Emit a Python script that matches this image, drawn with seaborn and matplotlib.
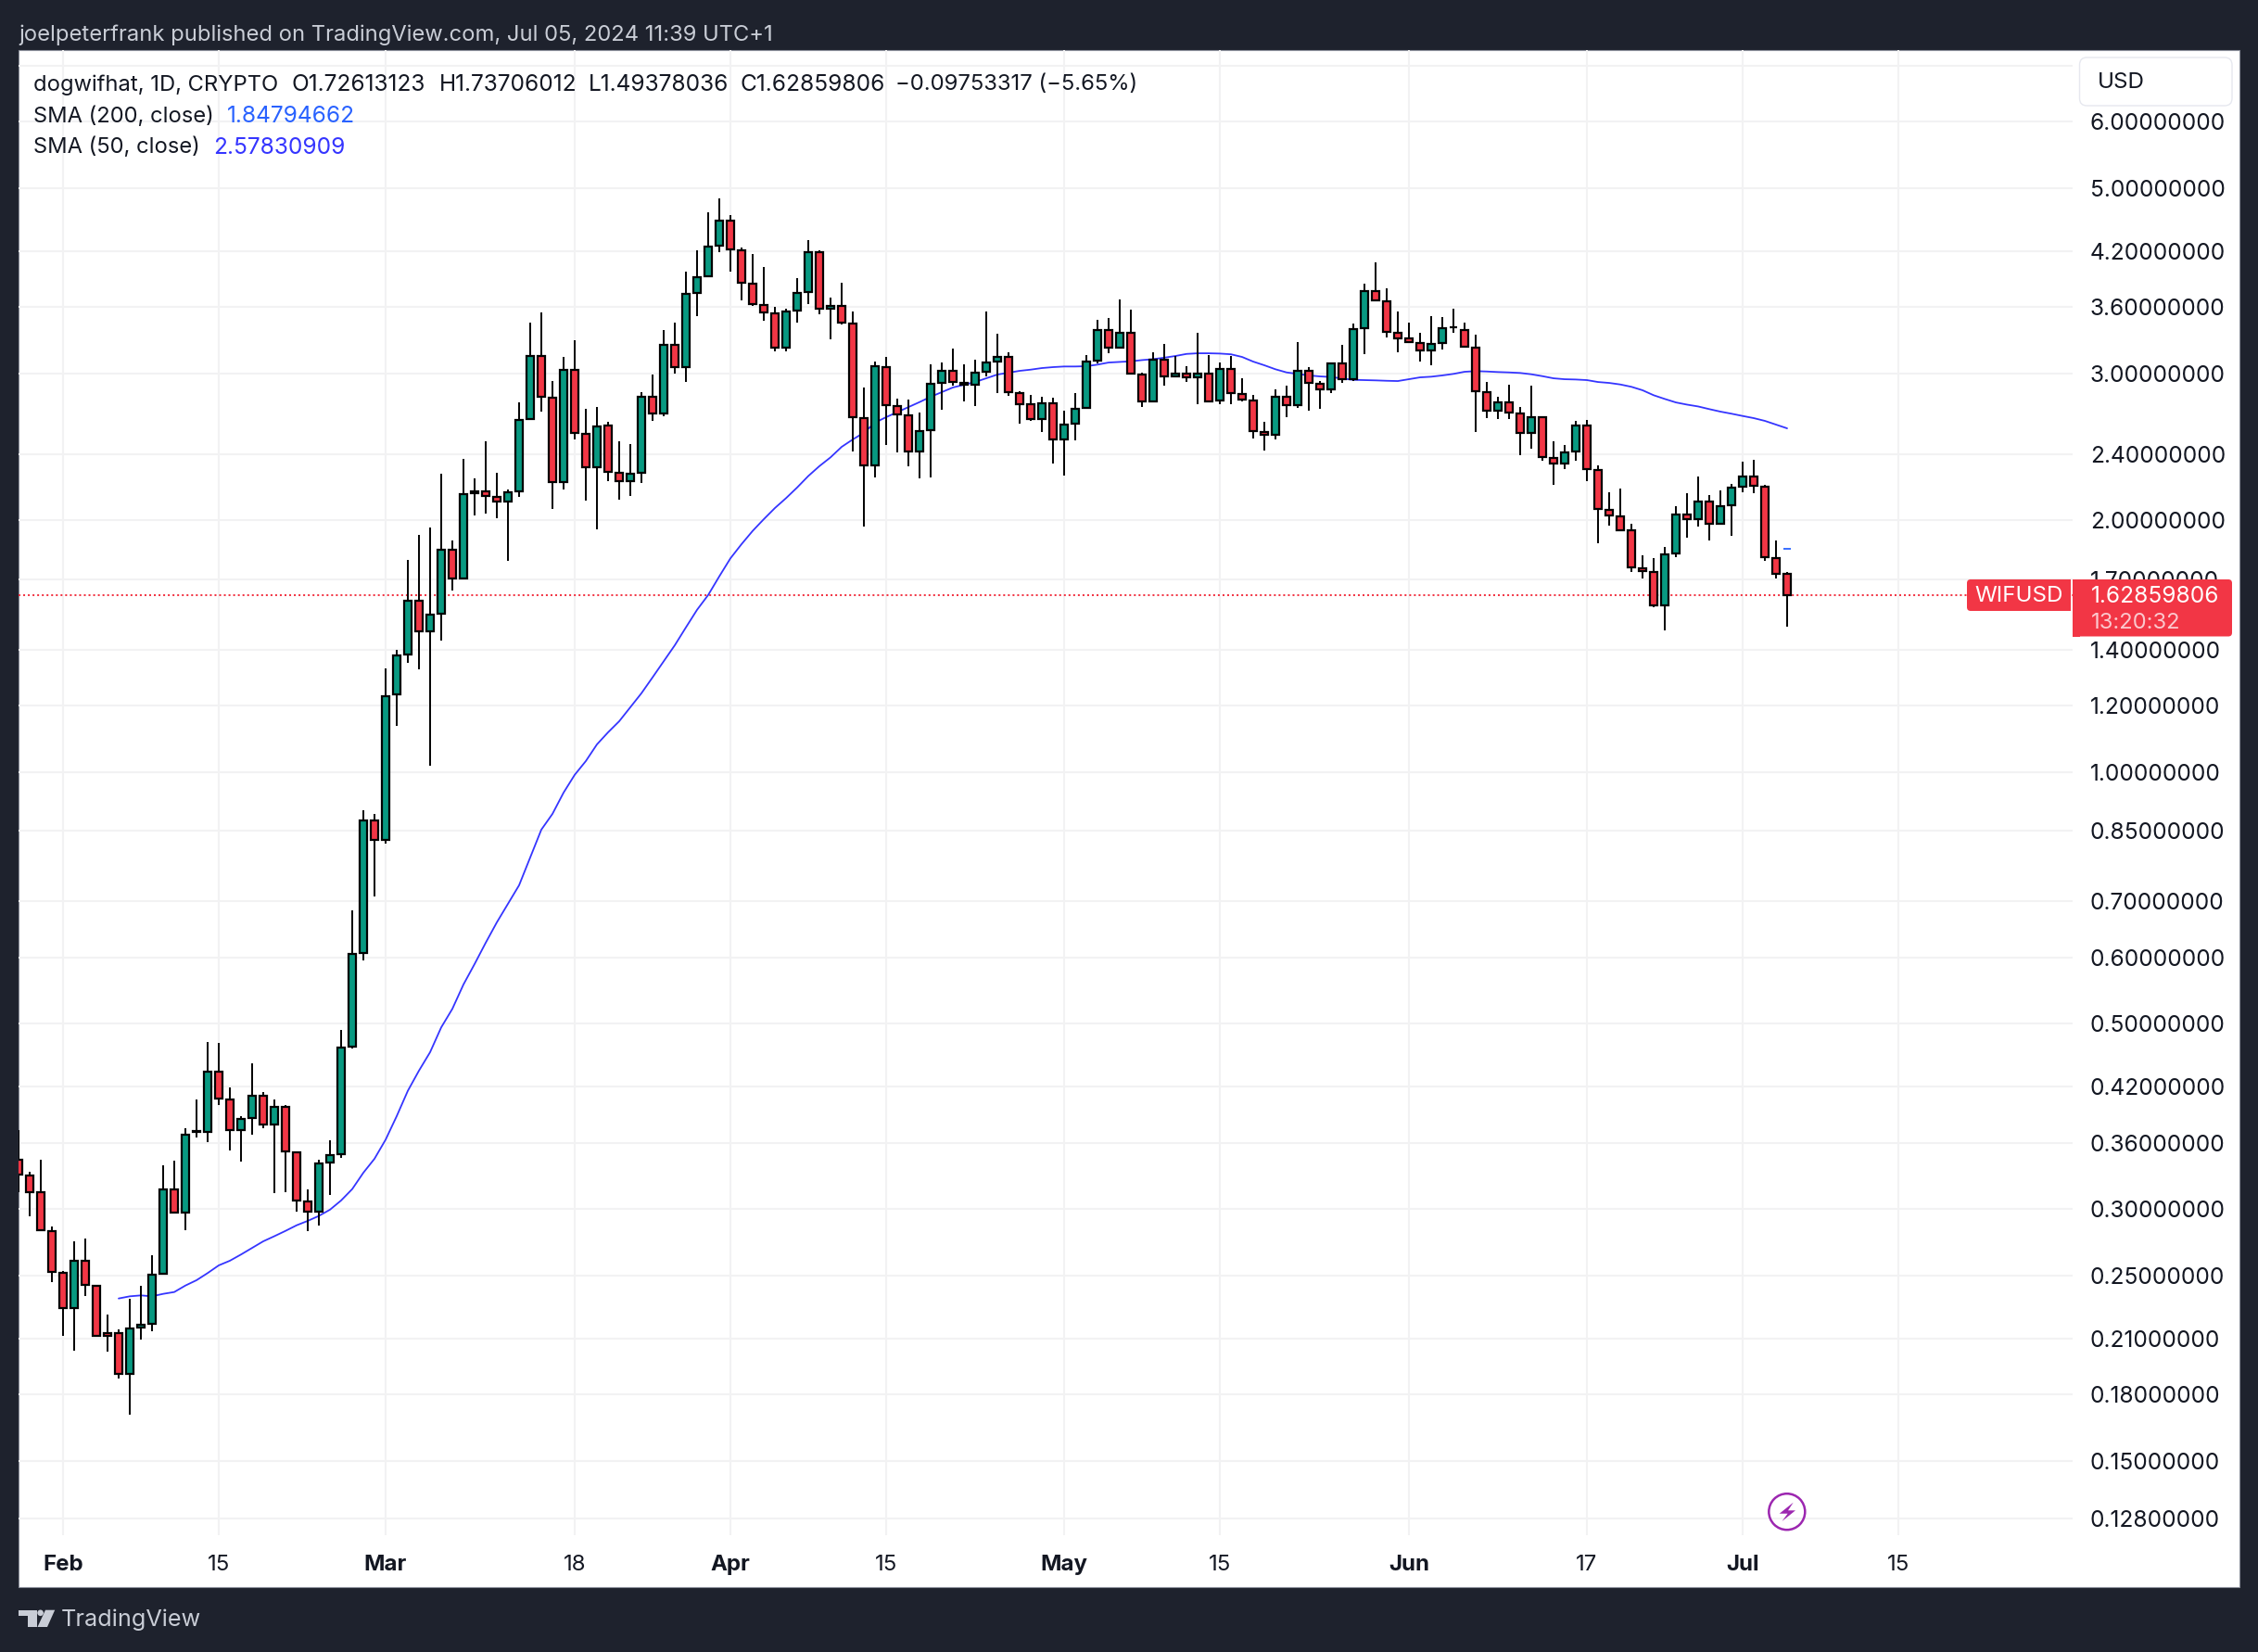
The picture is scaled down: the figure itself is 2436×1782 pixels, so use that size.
#!/usr/bin/env python3
"""WIFUSD daily candles with SMA 50, TradingView snapshot style."""

import matplotlib
matplotlib.use("Agg")
import matplotlib.dates as mdates
import matplotlib.pyplot as plt
import numpy as np
import pandas as pd
import seaborn as sns
from matplotlib.patches import Circle, FancyBboxPatch, Polygon, Rectangle
from matplotlib.ticker import NullLocator
from matplotlib.transforms import Affine2D

# --- data, one row per 10 daily candles, first candle is 2024-01-28
opens = [
    .3437, .3294, .3143, .2825, .2519, .2284, .2602, .2430, .2129, .2129,
    .1906, .2165, .2188, .2510, .3170, .2972, .3718, .3712, .4385, .4062,
    .3731, .3860, .4100, .3788, .3979, .3511, .3064, .2979, .3411, .3490,
    .4690, .6075, .8754, .8297, 1.239, 1.384, 1.604, 1.474, 1.547, 1.846,
    1.707, 2.170, 2.170, 2.136, 2.107, 2.167, 2.643, 3.148, 2.805, 2.221,
    3.031, 2.542, 2.314, 2.600, 2.283, 2.228, 2.281, 2.814, 2.685, 3.245,
    3.052, 3.744, 3.920, 4.265, 4.572, 4.214, 3.845, 3.624, 3.542, 3.220,
    3.566, 3.753, 4.189, 3.583, 3.612, 3.441, 2.654, 2.328, 3.054, 2.743,
    2.674, 2.419, 2.565, 2.920, 3.023, 2.924, 2.908, 3.013, 3.096, 3.141,
    2.844, 2.755, 2.645, 2.764, 2.501, 2.611, 2.728, 3.107, 3.380, 3.220,
    3.357, 2.992, 2.777, 3.117, 2.975, 3.000, 2.967, 3.000, 2.784, 3.039,
    2.836, 2.786, 2.554, 2.533, 2.815, 2.746, 3.023, 2.917, 2.870, 3.086,
    2.952, 3.397, 3.766, 3.659, 3.357, 3.301, 3.263, 3.193, 3.261, 3.404,
    3.383, 3.223, 2.851, 2.706, 2.772, 2.688, 2.546, 2.661, 2.378, 2.340,
    2.419, 2.598, 2.300, 2.061, 2.025, 1.946, 1.755, 1.737, 1.583, 1.827,
    2.035, 2.006, 2.109, 1.981, 2.086, 2.193, 2.258, 2.195, 1.805, 1.72613123,
]
highs = [
    .3731, .3325, .3437, .2860, .2530, .2745, .2766, .2430, .2244, .2154,
    .2343, .2428, .2642, .3385, .3429, .3750, .4058, .4755, .4742, .4196,
    .3876, .4483, .4142, .4058, .3996, .3511, .3168, .3437, .3627, .4911,
    .6827, .8996, .8905, 1.331, 1.399, 1.794, 1.920, 1.962, 2.276, 1.893,
    2.370, 2.247, 2.488, 2.281, 2.176, 2.770, 3.452, 3.553, 2.934, 3.142,
    3.283, 2.724, 2.738, 2.622, 2.488, 2.469, 2.849, 2.990, 3.381, 3.450,
    3.967, 4.207, 4.672, 4.854, 4.636, 4.240, 4.164, 4.018, 3.601, 3.583,
    3.897, 4.327, 4.207, 3.694, 3.848, 3.554, 2.883, 3.099, 3.139, 2.796,
    2.789, 2.693, 3.073, 3.091, 3.212, 3.073, 3.112, 3.557, 3.346, 3.177,
    2.854, 2.830, 2.812, 2.805, 2.705, 2.841, 3.153, 3.476, 3.494, 3.675,
    3.575, 3.008, 3.179, 3.253, 3.147, 3.060, 3.354, 3.153, 3.089, 3.145,
    2.958, 2.830, 2.623, 2.868, 2.900, 3.267, 3.052, 2.939, 3.086, 3.245,
    3.441, 3.842, 4.073, 3.792, 3.554, 3.447, 3.352, 3.509, 3.500, 3.583,
    3.447, 3.334, 2.928, 2.812, 2.908, 2.732, 2.898, 2.661, 2.485, 2.462,
    2.630, 2.636, 2.326, 2.160, 2.182, 1.981, 1.816, 1.802, 1.858, 2.079,
    2.155, 2.256, 2.144, 2.171, 2.210, 2.350, 2.362, 2.205, 1.893, 1.73706012,
]
lows = [
    .3143, .2944, .2823, .2455, .2118, .2033, .2363, .2118, .2028, .1883,
    .1704, .2096, .2145, .2510, .2972, .2833, .3657, .3611, .4000, .3528,
    .3422, .3686, .3752, .3138, .3146, .2981, .2825, .2869, .3122, .3457,
    .4674, .5957, .7106, .8219, 1.137, 1.352, 1.328, 1.018, 1.438, 1.650,
    1.703, 2.030, 2.036, 2.014, 1.791, 2.132, 2.643, 2.703, 2.063, 2.176,
    2.503, 2.115, 1.954, 2.232, 2.119, 2.142, 2.219, 2.635, 2.669, 2.998,
    2.928, 3.515, 3.920, 4.192, 3.973, 3.671, 3.615, 3.470, 3.190, 3.190,
    3.453, 3.633, 3.533, 3.297, 3.435, 2.421, 1.966, 2.252, 2.465, 2.415,
    2.324, 2.248, 2.254, 2.716, 2.902, 2.779, 2.743, 2.977, 2.844, 2.822,
    2.614, 2.630, 2.554, 2.342, 2.265, 2.496, 2.728, 3.086, 3.174, 3.220,
    2.998, 2.736, 2.777, 2.902, 2.975, 2.932, 2.757, 2.772, 2.757, 2.757,
    2.779, 2.509, 2.427, 2.503, 2.659, 2.729, 2.709, 2.723, 2.844, 2.924,
    2.939, 3.162, 3.667, 3.314, 3.182, 3.270, 3.101, 3.070, 3.206, 3.357,
    3.228, 2.554, 2.654, 2.647, 2.647, 2.396, 2.439, 2.360, 2.208, 2.306,
    2.360, 2.231, 1.880, 1.974, 1.949, 1.737, 1.706, 1.576, 1.479, 1.809,
    1.909, 1.969, 1.894, 1.981, 1.917, 2.164, 2.158, 1.791, 1.706, 1.49378036,
]
closes = [
    .3300, .3143, .2830, .2523, .2284, .2602, .2434, .2118, .2118, .1906,
    .2160, .2184, .2506, .3170, .2972, .3683, .3709, .4385, .4069, .3731,
    .3850, .4100, .3788, .3979, .3514, .3072, .2979, .3402, .3481, .4682,
    .6059, .8754, .8297, 1.233, 1.380, 1.604, 1.474, 1.544, 1.846, 1.707,
    2.153, 2.155, 2.138, 2.107, 2.163, 2.640, 3.148, 2.814, 2.221, 3.031,
    2.544, 2.314, 2.592, 2.285, 2.228, 2.276, 2.814, 2.685, 3.245, 3.052,
    3.735, 3.913, 4.257, 4.572, 4.221, 3.850, 3.630, 3.551, 3.220, 3.557,
    3.744, 4.189, 3.584, 3.615, 3.447, 2.659, 2.328, 3.062, 2.748, 2.677,
    2.419, 2.559, 2.917, 3.023, 2.929, 2.905, 3.006, 3.093, 3.141, 2.849,
    2.759, 2.645, 2.764, 2.501, 2.605, 2.723, 3.101, 3.380, 3.220, 3.357,
    2.998, 2.777, 3.117, 2.977, 3.000, 2.967, 3.000, 2.779, 3.039, 2.841,
    2.789, 2.559, 2.533, 2.815, 2.746, 3.023, 2.920, 2.868, 3.086, 2.952,
    3.391, 3.766, 3.667, 3.360, 3.301, 3.270, 3.193, 3.254, 3.400, 3.409,
    3.228, 2.856, 2.706, 2.772, 2.693, 2.546, 2.661, 2.382, 2.340, 2.415,
    2.598, 2.304, 2.065, 2.028, 1.949, 1.758, 1.739, 1.583, 1.823, 2.033,
    2.006, 2.109, 1.981, 2.082, 2.190, 2.258, 2.199, 1.807, 1.726, 1.62859806,
]
# SMA 50 only exists from the tenth candle on
sma50_values = [
    .2345, .2359, .2365, .2359, .2375, .2387, .2430, .2466, .2515, .2569,
    .2602, .2647, .2696, .2745, .2784, .2825, .2869, .2904, .2944, .2995,
    .3072, .3170, .3316, .3446, .3632, .3876, .4156, .4393, .4622, .4949,
    .5208, .5570, .5893, .6249, .6610, .6957, .7321, .7904, .8533, .8912,
    .9450, .9925, 1.0308, 1.0793, 1.1158, 1.1503, 1.1957, 1.2427, 1.2982, 1.3570,
    1.4184, 1.4899, 1.5638, 1.6289, 1.7148, 1.802, 1.874, 1.9437, 2.0073, 2.070,
    2.1272, 2.1906, 2.2608, 2.3234, 2.3802, 2.4500, 2.5005, 2.5476, 2.6192, 2.659,
    2.696, 2.7343, 2.7716, 2.8124, 2.8486, 2.8855, 2.9076, 2.9293, 2.9594, 2.9902,
    3.0055, 3.0209, 3.031, 3.0441, 3.052, 3.0573, 3.0573, 3.0597, 3.073, 3.0909,
    3.0964, 3.1011, 3.1117, 3.1197, 3.1325, 3.1469, 3.165, 3.1706, 3.1706, 3.1682,
    3.1618, 3.1387, 3.0988, 3.0677, 3.034, 3.0078, 2.9956, 2.983, 2.975, 2.970,
    2.9578, 2.947, 2.9448, 2.9425, 2.9393, 2.9371, 2.9519, 2.9672, 2.9725, 2.983,
    2.9956, 3.0132, 3.0186, 3.0155, 3.0109, 3.0078, 3.0033, 2.9925, 2.977, 2.9594,
    2.9519, 2.9496, 2.9448, 2.9293, 2.922, 2.9096, 2.8909, 2.8637, 2.8246, 2.7958,
    2.7691, 2.7524, 2.7386, 2.7186, 2.6999, 2.6844, 2.6677, 2.6519, 2.6319, 2.6049,
    2.57830909,
]
sma200_last = 1.84794662
last_close = 1.62859806

price_ticks = [7.0, 6.0, 5.0, 4.2, 3.6, 3.0, 2.4, 2.0, 1.7, 1.4, 1.2, 1.0, 0.85, 0.7,
               0.6, 0.5, 0.42, 0.36, 0.30, 0.25, 0.21, 0.18, 0.15, 0.128]
date_ticks = ["2024-02-01", "2024-02-15", "2024-03-01", "2024-03-18", "2024-04-01", "2024-04-15",
              "2024-05-01", "2024-05-15", "2024-06-01", "2024-06-17", "2024-07-01", "2024-07-15"]
date_labels = ["Feb", "15", "Mar", "18", "Apr", "15", "May", "15", "Jun", "17", "Jul", "15"]

# --- colours
BG = "#1e222d"
INK = "#131722"
GRID = "#f2f2f3"
UP = "#089981"
DOWN = "#f23645"
SMA50_COL = "#3535ff"
SMA200_COL = "#2962ff"
SOFT = "#c9cdd6"

# numbers in the reference are tabular, so they need a slightly larger size than words
WORD_SIZE = 17.1
NUM_SIZE = 17.6

W, H = 2436, 1782
sns.set_theme(style="white")
plt.rcParams["font.family"] = ["Inter", "DejaVu Sans"]

fig = plt.figure(figsize=(W / 100, H / 100), dpi=100, facecolor=BG)
# screen pixels, y pointing down, for everything that is page furniture
px = Affine2D().scale(1, -1).translate(0, H)

fig.add_artist(Rectangle((20, 54), 2396, 1658, transform=px, facecolor="white",
                         edgecolor="#8a8e99", linewidth=0.8, zorder=-1))

ax = fig.add_axes([20 / W, 1 - 1656 / H, 2216 / W, 1602 / H])
ax.set_facecolor("white")
ax.patch.set_alpha(0)

dates = mdates.date2num(pd.date_range("2024-01-28", periods=len(opens), freq="D"))
o, h, l, c = map(np.array, (opens, highs, lows, closes))
is_up = c >= o
colours = np.where(is_up, UP, DOWN)

# price line sits behind everything
ax.axhline(last_close, color=DOWN, linewidth=1.45, linestyle=(0, (1, 1.5)), zorder=1)

sns.lineplot(x=dates[9:], y=sma50_values, ax=ax, color=SMA50_COL, linewidth=1.3,
             errorbar=None, sort=False, zorder=2)

ax.vlines(dates, l, h, color="black", linewidth=1.4, zorder=3)
ax.bar(dates, np.abs(c - o), bottom=np.minimum(o, c), width=0.6, color=colours,
       edgecolor="black", linewidth=1.6, zorder=4)

ax.plot(dates[-1], sma200_last, marker="_", color=SMA200_COL, markersize=5.6,
        markeredgewidth=1.3, zorder=4)

ax.set_yscale("log")
ax.set_ylim(0.12215, 7.311)
ax.set_xlim(dates[0], dates[0] + 2216 / 12)

tick_pos = mdates.date2num(pd.to_datetime(date_ticks))
ax.set_xticks(tick_pos)
ax.set_xticklabels(date_labels, fontsize=17.3, color=INK)
for lab, text in zip(ax.get_xticklabels(), date_labels):
    if not text.isdigit():
        lab.set_fontweight("bold")

ax.yaxis.tick_right()
ax.yaxis.set_minor_locator(NullLocator())
ax.set_yticks(price_ticks)
ax.set_yticklabels(["" if p == 7.0 else f"{p:.8f}" for p in price_ticks], fontsize=NUM_SIZE, color=INK)
ax.yaxis.set_minor_locator(NullLocator())
ax.tick_params(axis="y", length=0, pad=13.5)
ax.tick_params(axis="x", length=0, pad=15)

ax.grid(True, which="major", color=GRID, linewidth=1.45)
ax.set_axisbelow(True)
for spine in ax.spines.values():
    spine.set_visible(False)


def put(x, y, s, color=INK, size=WORD_SIZE, **kw):
    fig.text(x, y + 1.5, s, transform=px, color=color, fontsize=size, va="center", zorder=8, **kw)


# header and footer on the dark frame
put(20, 36, "joelpeterfrank published on TradingView.com, Jul 05, 2024 11:39 UTC+1", color=SOFT)
put(66, 1745.5, "TradingView", color=SOFT, size=18.2)
fig.add_artist(Polygon([(20.4, 1736.7), (39.8, 1736.7), (39.8, 1755), (29.6, 1755), (29.6, 1743), (20.4, 1743)],
                       transform=px, facecolor=SOFT, edgecolor="none"))
fig.add_artist(Circle((43.6, 1739.8), 3.3, transform=px, facecolor=SOFT, edgecolor="none"))
fig.add_artist(Polygon([(49, 1736.7), (59.2, 1736.7), (51, 1755), (40.5, 1755)],
                       transform=px, facecolor=SOFT, edgecolor="none"))

# legend lines
put(36, 90, "dogwifhat, 1D, CRYPTO")
put(314, 90, "O1.72613123", size=NUM_SIZE)
put(473.5, 90, "H1.73706012", size=NUM_SIZE)
put(635, 90, "L1.49378036", size=NUM_SIZE)
put(798.5, 90, "C1.62859806", size=NUM_SIZE)
put(966, 90, "\u22120.09753317 (\u22125.65%)", size=17.2)
put(36, 124, "SMA (200, close)")
put(245, 124, "1.84794662", color=SMA200_COL, size=NUM_SIZE)
put(36, 157.5, "SMA (50, close)")
put(230.5, 157.5, "2.57830909", color=SMA50_COL, size=NUM_SIZE)

# currency box
fig.add_artist(FancyBboxPatch((2243.5, 62), 164.5, 52, boxstyle="round,pad=0,rounding_size=8", transform=px,
                              facecolor="white", edgecolor="#e6e8ef", linewidth=1.0, zorder=5))
put(2262.5, 87.5, "USD", size=17.4)

# last price tags
fig.add_artist(FancyBboxPatch((2122, 625), 112, 34, boxstyle="round,pad=0,rounding_size=4", transform=px,
                              facecolor=DOWN, edgecolor="none", zorder=6))
fig.add_artist(Rectangle((2226, 625), 8, 34, transform=px, facecolor=DOWN, edgecolor="none", zorder=6))
fig.add_artist(FancyBboxPatch((2236, 625), 172, 61.5, boxstyle="round,pad=0,rounding_size=4", transform=px,
                              facecolor=DOWN, edgecolor="none", zorder=6))
fig.add_artist(Rectangle((2236, 625), 8, 61.5, transform=px, facecolor=DOWN, edgecolor="none", zorder=6))
put(2178, 641.5, "WIFUSD", color="white", ha="center", size=17.4)
put(2255.5, 641.5, f"{last_close:.8f}", color="white", size=NUM_SIZE)
put(2255.5, 671, "13:20:32", color="#fbc8cd", size=17.1)

# purple bolt badge
PURPLE = "#9c27b0"
fig.add_artist(Circle((1927.8, 1630.7), 19.5, transform=px, facecolor="none", edgecolor=PURPLE, linewidth=1.8, zorder=5))
fig.add_artist(Polygon([(1934.7, 1620.7), (1919.7, 1632.7), (1928.6, 1632.7), (1922.5, 1641),
                        (1937, 1629.3), (1929, 1629.3)],
                       transform=px, facecolor=PURPLE, edgecolor="none", zorder=5))

fig.savefig("out.png", dpi=100, facecolor=BG)
plt.close(fig)
